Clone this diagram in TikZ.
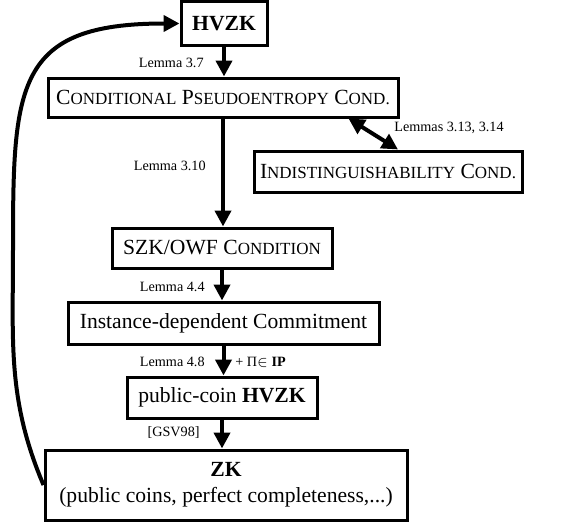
\documentclass[tikz,border=0pt]{standalone}
\usepackage{fontspec}
\setmainfont{Liberation Serif}
\usetikzlibrary{arrows.meta}
\newcommand\fakesc[1]{{\fontsize{8.5pt}{10pt}\selectfont\MakeUppercase{#1}}}
\tikzset{
  box/.style={draw, line width=1.5pt, inner sep=0pt, font=\fontsize{10.8pt}{13pt}\selectfont},
  lbl/.style={inner sep=0pt, font=\fontsize{7.1pt}{8.5pt}\selectfont},
  arr/.style={line width=2pt, -{Triangle[width=8pt,length=8pt]}},
}
\begin{document}
\begin{tikzpicture}[x=0.5pt,y=0.5pt]
   \useasboundingbox (0,0) rectangle (566,521);
   \node[box, minimum width=43pt, minimum height=21.5pt] (hvzk) at (224, 497.5) {\bfseries HVZK};
   \node[box, minimum width=175pt, minimum height=19.5pt] (cpc) at (223, 423.5) {C\fakesc{onditional} P\fakesc{seudoentropy} C\fakesc{ond.}};
   \node[box, minimum width=134pt, minimum height=20.5pt] (ind) at (388, 349.5) {I\fakesc{ndistinguishability} C\fakesc{ond.}};
   \node[box, minimum width=110pt, minimum height=20pt] (szk) at (222, 273) {SZK/OWF C\fakesc{ondition}};
   \node[box, minimum width=155.5pt, minimum height=21pt] (inst) at (223.5, 198) {Instance-dependent Commitment};
   \node[box, minimum width=95pt, minimum height=20.5pt] (pch) at (222, 123.5) {public-coin \textbf{HVZK}};
   \node[box, minimum width=181pt, minimum height=35pt, align=center] (zk) at (226, 36) {\textbf{ZK}\\(public coins, perfect completeness,...)};
   \node[lbl, anchor=east] (l37) at (204, 458) {Lemma 3.7};
   \node[lbl, anchor=east] (l310) at (206, 355) {Lemma 3.10};
   \node[lbl, anchor=west] (l313) at (394, 393) {Lemmas 3.13, 3.14};
   \node[lbl, anchor=east] (l44) at (205, 234) {Lemma 4.4};
   \node[lbl, anchor=east] (l48) at (205, 159) {Lemma 4.8};
   \node[lbl, anchor=west] (ip) at (235, 159) {+ Π$\in$ \textbf{IP}};
   \node[lbl, anchor=east] (gsv) at (200, 88) {[GSV98]};
   \coordinate (bend) at (13, 271);
   \draw[arr] (hvzk.south) -- (hvzk.south |- cpc.north);
   \draw[arr] (cpc.south) -- (cpc.south |- szk.north);
   \draw[arr] (szk.south) -- (szk.south |- inst.north);
   \draw[arr] (inst.south) -- (inst.south |- pch.north);
   \draw[arr] (pch.south) -- (pch.south |- zk.north);
   \draw[line width=2pt, {Triangle[width=8pt,length=8pt]}-{Triangle[width=8pt,length=8pt]}] ([xshift=-25.5pt]cpc.south east) -- ([xshift=5pt]ind.north);
   \draw[line width=2pt, -{Triangle[width=8pt,length=8pt]}] (zk.west) to[out=113, in=-90] (bend) to[out=90, in=180, looseness=1.5] (hvzk.west);
\end{tikzpicture}
\end{document}
